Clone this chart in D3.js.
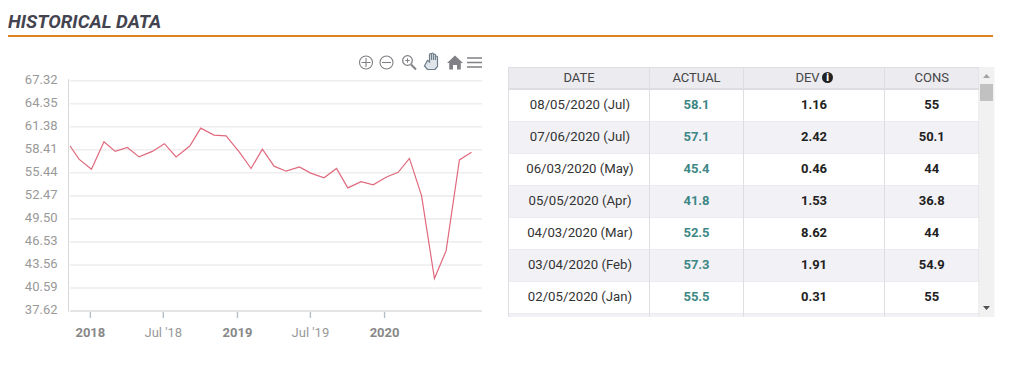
<!DOCTYPE html>
<html>
<head>
<meta charset="utf-8">
<title>Historical data</title>
<script src="https://cdnjs.cloudflare.com/ajax/libs/d3/7.8.5/d3.min.js"></script>
<style>
    html, body { margin: 0; padding: 0; background: #fff; overflow: hidden; }
    svg { display: block; font-family: Roboto, sans-serif; }
</style>
</head>
<body>
<svg id="page" width="1009" height="379"></svg>
<script>
// release dates and actual values
var releaseDates = [
    "2017-11-13", "2017-12-05", "2018-01-05", "2018-02-05", "2018-03-05", "2018-04-04", "2018-05-03",
    "2018-06-05", "2018-07-05", "2018-08-03", "2018-09-06", "2018-10-03", "2018-11-05", "2018-12-05",
    "2019-01-07", "2019-02-05", "2019-03-05", "2019-04-03", "2019-05-03", "2019-06-05", "2019-07-03",
    "2019-08-05", "2019-09-05", "2019-10-03", "2019-11-05", "2019-12-05", "2020-01-07", "2020-02-05",
    "2020-03-04", "2020-04-03", "2020-05-05", "2020-06-03", "2020-07-06", "2020-08-05"
];
var releaseValues = [
    58.9, 57.2, 55.9, 59.45, 58.2, 58.7, 57.5,
    58.2, 59.2, 57.5, 58.9, 61.2, 60.3, 60.2,
    58.1, 56.0, 58.5, 56.3, 55.65, 56.2, 55.4,
    54.8, 56.0, 53.5, 54.3, 53.9, 54.9, 55.5,
    57.3, 52.5, 41.8, 45.4, 57.1, 58.1
];

var yTicks = [67.32, 64.35, 61.38, 58.41, 55.44, 52.47, 49.50, 46.53, 43.56, 40.59, 37.62];
var xTickDates = ["2018-01-01", "2018-07-01", "2019-01-01", "2019-07-01", "2020-01-01"];
var xTickLabels = ["2018", "Jul '18", "2019", "Jul '19", "2020"];
var xTickBold = [true, false, true, false, true];

// table
var tableHeaders = ["DATE", "ACTUAL", "DEV", "CONS"];
var tableDates = ["08/05/2020 (Jul)", "07/06/2020 (Jul)", "06/03/2020 (May)", "05/05/2020 (Apr)",
    "04/03/2020 (Mar)", "03/04/2020 (Feb)", "02/05/2020 (Jan)"];
var tableActual = ["58.1", "57.1", "45.4", "41.8", "52.5", "57.3", "55.5"];
var tableDev = ["1.16", "2.42", "0.46", "1.53", "8.62", "1.91", "0.31"];
var tableCons = ["55", "50.1", "44", "36.8", "44", "54.9", "55"];

var parseDay = d3.timeParse("%Y-%m-%d");
var svg = d3.select("#page");

// heading
svg.append("text")
    .attr("x", 8).attr("y", 28)
    .attr("font-size", 18.7).attr("font-weight", 700).attr("font-style", "italic")
    .attr("fill", "#444450")
    .text("HISTORICAL DATA");
svg.append("rect")
    .attr("x", 8).attr("y", 35).attr("width", 985).attr("height", 2)
    .attr("fill", "#dd8420");

// ---------- chart ----------
var plot = { left: 70, right: 482, top: 80.7, bottom: 311 };

var x = d3.scaleTime()
    .domain([parseDay("2017-11-09"), parseDay("2020-08-31")])
    .range([68.5, 482]);
var y = d3.scaleLinear()
    .domain([37.62, 67.32])
    .range([plot.bottom, plot.top]);

// gridlines and y labels
var yAxis = svg.append("g")
    .attr("transform", "translate(68.5,-1.5)")
    .call(d3.axisLeft(y).tickValues(yTicks).tickSize(0).tickPadding(11).tickFormat(d3.format(".2f")));
yAxis.select(".domain").remove();
yAxis.selectAll("text").attr("font-family", "Roboto").attr("font-size", 13).attr("fill", "#999");

svg.append("g").selectAll("line").data(yTicks).join("line")
    .attr("x1", plot.left).attr("x2", plot.right)
    .attr("y1", function (d) { return y(d); })
    .attr("y2", function (d) { return y(d); })
    .attr("stroke", function (d) { return d === 37.62 ? "#e4e4e4" : "#eeeeee"; })
    .attr("stroke-width", function (d) { return d === 37.62 ? 2 : 1.6; });

svg.append("line")
    .attr("x1", 68.5).attr("x2", 68.5).attr("y1", 79).attr("y2", 312)
    .attr("stroke", "#d8d8d8").attr("stroke-width", 1);

// x axis
var xAxis = svg.append("g")
    .attr("transform", "translate(0,312)")
    .call(d3.axisBottom(x).tickValues(xTickDates.map(parseDay)).tickSize(6).tickPadding(10)
        .tickFormat(function (d, i) { return xTickLabels[i]; }));
xAxis.select(".domain").remove();
xAxis.selectAll("line").attr("stroke", "#b4c0c8").attr("stroke-width", 1.4);
xAxis.selectAll("text")
    .attr("font-family", "Roboto").attr("font-size", 13)
    .attr("font-weight", function (d, i) { return xTickBold[i] ? 700 : 400; })
    .attr("fill", function (d, i) { return xTickBold[i] ? "#888" : "#999"; });

// the line
var line = d3.line()
    .x(function (d) { return x(parseDay(d)); })
    .y(function (d, i) { return y(releaseValues[i]); });

svg.append("path")
    .attr("d", line(releaseDates))
    .attr("fill", "none")
    .attr("stroke", "#e0697d")
    .attr("stroke-width", 1.2);

// toolbar icons
var tools = svg.append("g").attr("fill", "none").attr("stroke", "#808085");
tools.append("circle").attr("cx", 366).attr("cy", 62.5).attr("r", 6.5).attr("stroke-width", 1.1);
tools.append("path").attr("d", "M361.5 62.5h9M366 58v9").attr("stroke-width", 1.1);
tools.append("circle").attr("cx", 386.5).attr("cy", 62.5).attr("r", 6.5).attr("stroke-width", 1.1);
tools.append("path").attr("d", "M382 62.5h9").attr("stroke-width", 1.1);
tools.append("circle").attr("cx", 407.5).attr("cy", 60.5).attr("r", 4.8).attr("stroke-width", 1.3);
tools.append("path").attr("d", "M411 64.5l5 5").attr("stroke-width", 2);
tools.append("path").attr("d", "M405.3 60.5h4.4M407.5 58.3v4.4").attr("stroke-width", 1);
tools.append("path")
    .attr("d", "M424.5 66l3 3.5h7.5l2.5-3v-9.5a1 1 0 0 0-2 0v3v-5a1 1 0 0 0-2 0v5v-6a1 1 0 0 0-2 0v6v-5.5a1 1 0 0 0-2 0v7.5l-2-1.5z")
    .attr("stroke-width", 1.2).attr("stroke", "#6f7f8c").attr("fill", "#dfe5ea");
svg.append("path")
    .attr("d", "M455 55.5l8 7.5h-2.2v6.5h-3.8v-4.5h-4v4.5h-3.8v-6.5h-2.2z")
    .attr("fill", "#808085");
tools.append("path").attr("d", "M467 58h15M467 62.5h15M467 67h15").attr("stroke-width", 1.6);

// ---------- table ----------
var colEdges = [508.5, 649.5, 743.5, 884.5, 979];
var rowTop = 89.5;
var rowHeight = 32;
var tableBottom = 317;

var rowY = d3.scaleLinear().domain([0, 1]).range([rowTop, rowTop + rowHeight]);
var colMid = function (i) { return (colEdges[i] + colEdges[i + 1]) / 2; };

svg.append("defs").append("clipPath").attr("id", "tableClip")
    .append("rect")
    .attr("x", 508).attr("y", 66).attr("width", 472).attr("height", tableBottom - 66);

var table = svg.append("g").attr("clip-path", "url(#tableClip)");

// stripes, one row further than the text because the list is cut off
table.selectAll("rect.stripe").data(d3.range(8)).join("rect")
    .attr("class", "stripe")
    .attr("x", colEdges[0]).attr("width", colEdges[4] - colEdges[0])
    .attr("y", function (d) { return rowY(d); })
    .attr("height", rowHeight)
    .attr("fill", function (d) { return d % 2 ? "#f2f2f6" : "#ffffff"; });

table.selectAll("line.rowLine").data(d3.range(1, 8)).join("line")
    .attr("class", "rowLine")
    .attr("x1", colEdges[0]).attr("x2", colEdges[4])
    .attr("y1", function (d) { return rowY(d); })
    .attr("y2", function (d) { return rowY(d); })
    .attr("stroke", "#ececf0");

// header
table.append("rect")
    .attr("x", colEdges[0]).attr("y", 67.5)
    .attr("width", colEdges[4] - colEdges[0]).attr("height", 21)
    .attr("fill", "#ebebf0");
table.append("rect")
    .attr("x", colEdges[0]).attr("y", 88)
    .attr("width", colEdges[4] - colEdges[0]).attr("height", 2)
    .attr("fill", "#dedee2");
table.append("line")
    .attr("x1", colEdges[0]).attr("x2", colEdges[4]).attr("y1", 67.5).attr("y2", 67.5)
    .attr("stroke", "#dedee2");

table.selectAll("line.colLine").data(colEdges).join("line")
    .attr("class", "colLine")
    .attr("x1", function (d) { return d; }).attr("x2", function (d) { return d; })
    .attr("y1", 67.5).attr("y2", tableBottom)
    .attr("stroke", "#dedee2");

table.selectAll("text.head").data(tableHeaders).join("text")
    .attr("class", "head")
    .attr("x", function (d, i) { return d === "DEV" ? colMid(i) - 6.5 : colMid(i); })
    .attr("y", 82)
    .attr("text-anchor", "middle")
    .attr("font-size", 13)
    .attr("fill", "#444")
    .text(function (d) { return d; });

table.append("circle").attr("cx", 827.5).attr("cy", 77.5).attr("r", 5.5).attr("fill", "#222");
table.append("text")
    .attr("x", 827.5).attr("y", 81).attr("text-anchor", "middle")
    .attr("font-size", 10).attr("font-weight", 900).attr("fill", "#fff")
    .text("i");

// body columns
var columns = [
    { values: tableDates, weight: 400, color: "#333" },
    { values: tableActual, weight: 700, color: "#3d8785" },
    { values: tableDev, weight: 700, color: "#222" },
    { values: tableCons, weight: 700, color: "#222" }
];
columns.forEach(function (col, c) {
    table.append("g").selectAll("text").data(col.values).join("text")
        .attr("x", colMid(c) + (c === 0 ? 1 : 0))
        .attr("y", function (d, i) { return rowY(i) + 19; })
        .attr("text-anchor", "middle")
        .attr("font-size", c === 0 ? 13.2 : 13)
        .attr("font-weight", col.weight)
        .attr("fill", col.color)
        .text(function (d) { return d; });
});

// scrollbar
svg.append("rect").attr("x", 979.5).attr("y", 67).attr("width", 15).attr("height", 250).attr("fill", "#f1f1f1");
svg.append("rect").attr("x", 980).attr("y", 84).attr("width", 13).attr("height", 17).attr("fill", "#c1c1c1");
svg.append("path").attr("d", "M983 78l3.5-4 3.5 4z").attr("fill", "#a3a3a3");
svg.append("path").attr("d", "M983 306l3.5 4 3.5-4z").attr("fill", "#505050");
</script>
</body>
</html>
